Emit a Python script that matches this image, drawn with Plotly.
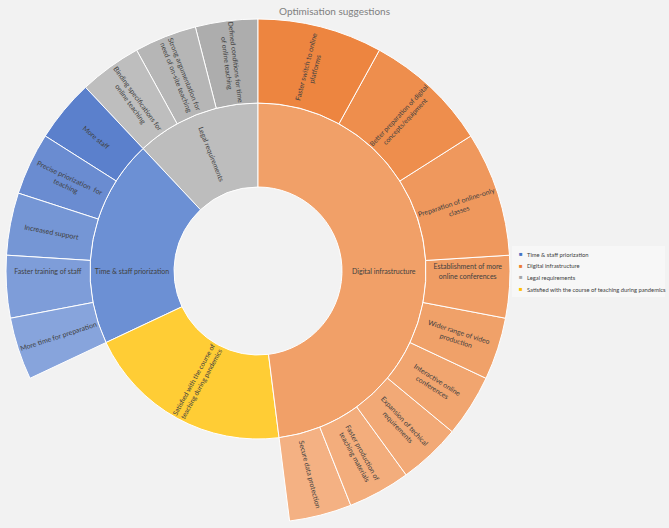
import plotly.graph_objects as go

# ==========================================
# Data
# ==========================================
groups = ['Legal requirements', 'Time & staff priorization',
          'Satisfied with the course of teaching during pandemics', 'Digital infrastructure']
group_text = ['Legal requirements', 'Time & staff priorization',
              'Satisfied with the course of<br>teaching during pandemics', 'Digital infrastructure']
group_values = [3, 5, 5, 12]
group_colors = ['#bdbdbd', '#6c90d4', '#ffcd35', '#f1a068']

legal_items = ['Defined conditions for time<br>of online teaching',
               'Strong argumentation for<br>need of on-site teaching',
               'Binding specifications for<br>online teaching']
legal_values = [1, 1, 1]
legal_colors = ['#adadad', '#b6b6b6', '#bebebe']

staff_items = ['More staff', 'Precise priorization  for<br>teaching', 'Increased support',
               'Faster training of staff', 'More time for preparation']
staff_values = [1, 1, 1, 1, 1]
staff_colors = ['#5b80cc', '#6a8cd1', '#7596d5', '#7e9dd9', '#87a4dc']

digital_items = ['Secure data protection', 'Faster production of<br>teaching materials',
                 'Expansion of techical<br>requirements', 'Interactive online<br>conferences',
                 'Wider range of video<br>production', 'Establishment of more<br>online conferences',
                 'Preparation of online-only<br>classes', 'Better preparation of digital<br>concepts/equipment',
                 'Faster switch to online<br>platforms']
digital_values = [1, 1, 1, 1, 1, 1, 2, 2, 2]
digital_colors = ['#f4b183', '#f3ad7c', '#f2a976', '#f1a56f', '#f0a169', '#f09d64',
                  '#ef985d', '#ee8e4d', '#ed8540']

legend_names = ['Time & staff priorization', 'Digital infrastructure', 'Legal requirements',
                'Satisfied with the course of teaching during pandemics']
legend_colors = ['#4472c4', '#ed7d31', '#a5a5a5', '#ffc000']

# ==========================================
# Build sunburst table (invisible root gives the centre hole)
# ==========================================
ids = ['root']; labels = ['']; parents = ['']; values = [sum(group_values)]
texts = ['']; colors = ['rgba(0,0,0,0)']; line_colors = ['rgba(0,0,0,0)']
for g, t, v, c in zip(groups, group_text, group_values, group_colors):
    ids.append(g); labels.append(g); parents.append('root'); values.append(v)
    texts.append(t); colors.append(c); line_colors.append('white')

for parent, items, vals, cols in [
        (groups[0], legal_items, legal_values, legal_colors),
        (groups[1], staff_items, staff_values, staff_colors),
        (groups[3], digital_items, digital_values, digital_colors)]:
    for it, v, c in zip(items, vals, cols):
        ids.append(parent + '/' + it); labels.append(it.replace('<br>', ' '))
        parents.append(parent); values.append(v); texts.append(it)
        colors.append(c); line_colors.append('white')

fig = go.Figure()
fig.add_trace(go.Sunburst(
    ids=ids, labels=labels, parents=parents, values=values, text=texts,
    branchvalues='total', sort=False, rotation=90,
    texttemplate='%{text}', insidetextorientation='radial',
    insidetextfont=dict(family='Lato', size=7, color='#404040'),
    marker=dict(colors=colors, line=dict(color=line_colors, width=1)),
    leaf=dict(opacity=1),
    domain=dict(x=[6 / 669, 510 / 669], y=[5 / 528, 509 / 528])
))

# legend box drawn by hand (Excel-style compact legend)
fig.add_shape(type='rect', xref='paper', yref='paper',
              x0=512 / 669, x1=665 / 669, y0=1 - 297 / 528, y1=1 - 246 / 528,
              fillcolor='#f7f7f7', line=dict(width=0), layer='below')
for i, (name, col) in enumerate(zip(legend_names, legend_colors)):
    yy = 1 - (254 + i * 11.7) / 528
    fig.add_annotation(x=521 / 669, y=yy, xref='paper', yref='paper', text='■',
                       showarrow=False, xanchor='center', yanchor='middle',
                       font=dict(size=6, color=col))
    fig.add_annotation(x=525 / 669, y=yy, xref='paper', yref='paper', text=name,
                       showarrow=False, xanchor='left', yanchor='middle',
                       font=dict(family='Lato', size=5.8, color='#404040'))

fig.update_layout(
    width=669, height=528,
    margin=dict(l=0, r=0, t=0, b=0),
    paper_bgcolor='#f2f2f2',
    showlegend=False,
    title=dict(text='Optimisation suggestions', x=0.5, xanchor='center',
               y=1 - 11 / 528, yanchor='middle',
               font=dict(family='Lato', size=10, color='#808080'))
)

# drop the default page margin so the figure fills the window
fig.write_html("out.html", config={'displayModeBar': False},
               post_script="document.body.style.margin='0';")
